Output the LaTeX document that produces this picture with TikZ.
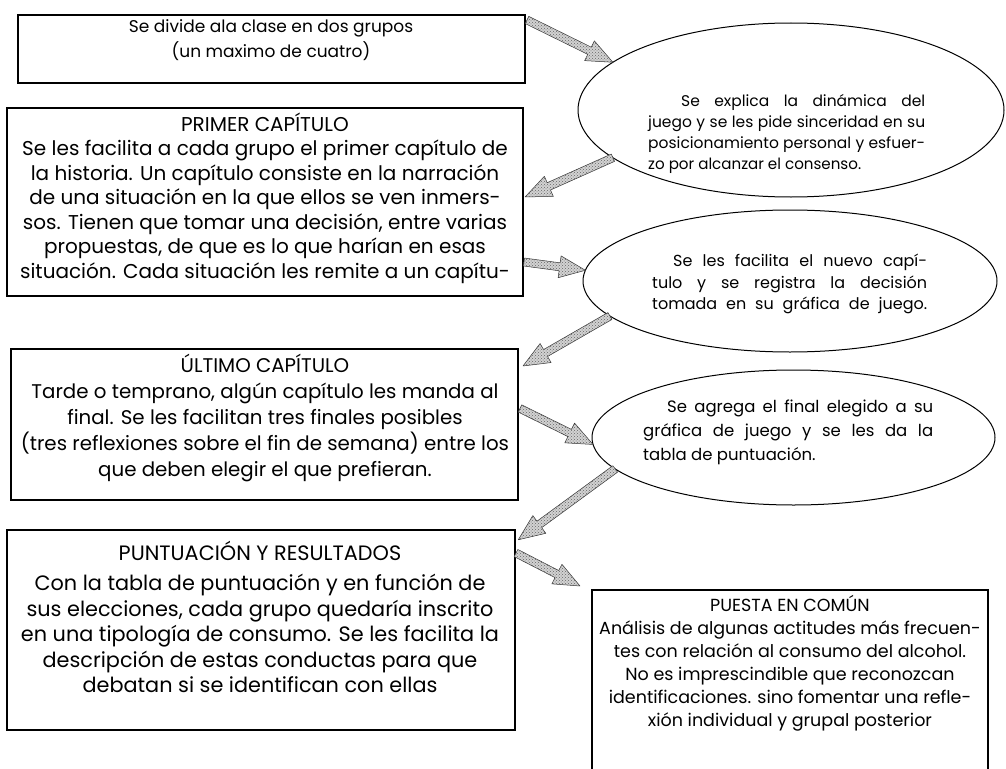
\documentclass[tikz,border=0pt]{standalone}
\usepackage{fontspec}
\setmainfont{Poppins}
\usepackage{graphicx}
\usetikzlibrary{calc,shapes.geometric,patterns}

\newcommand\jline[2]{\sbox0{#2}\ifdim\wd0>#1\relax\pgfmathparse{#1/\the\wd0}\scalebox{\pgfmathresult}[1]{\box0}\else\makebox[#1][s]{#2}\fi}

\newcommand\blockarrow[2]{%
 \path let \p1=(#1), \p2=(#2), \n1={atan2(\y2-\y1,\x2-\x1)}, \n2={veclen(\x2-\x1,\y2-\y1)} in
   \pgfextra{\pgfmathsetmacro\baA{\n1}\pgfmathsetmacro\baL{\n2}\xdef\baA{\baA}\xdef\baL{\baL}\xdef\baX{\x1}\xdef\baY{\y1}};
 \begin{scope}[shift={(\baX,\baY)}, rotate=\baA]
  \filldraw[barrow] (0pt,4pt) -- ({\baL pt-26pt},4pt) -- ({\baL pt-26pt},11pt) -- (\baL pt,0pt)
     -- ({\baL pt-26pt},-11pt) -- ({\baL pt-26pt},-4pt) -- (0pt,-4pt) -- cycle;
 \end{scope}}

\begin{document}
\begin{tikzpicture}[x=1pt,y=-1pt,
  box/.style={draw=black, line width=1.1pt, rectangle, inner sep=0pt, outer sep=0pt},
  oval/.style={draw=black, line width=1pt, ellipse, inner sep=0pt, outer sep=0pt},
  btext/.style={align=center, inner sep=0pt, font=\fontsize{20}{24.5}\selectfont},
  otext/.style={align=left, inner sep=0pt, anchor=west, font=\fontsize{15.5}{21}\selectfont},
  barrow/.style={fill=gray!35, draw=black!80, line width=0.5pt, line join=round,
    postaction={pattern=crosshatch dots, pattern color=black!60}}]
\useasboundingbox (0,0) rectangle (1006,768);
\fill[white] (0,0) rectangle (1006,768);

% boxes
\node[box, minimum width=507pt, minimum height=68pt] (b1) at (271.5,49) {};
\node[box, minimum width=516pt, minimum height=188pt] (b2) at (265,202) {};
\node[box, minimum width=507pt, minimum height=151pt] (b3) at (264.5,424.5) {};
\node[box, minimum width=508pt, minimum height=200pt] (b4) at (261,630) {};
\node[box, minimum width=396pt, minimum height=200pt] (b5) at (790,690) {};

% ellipses
\node[oval, minimum width=426pt, minimum height=174pt] (e1) at (791,110) {};
\node[oval, minimum width=414pt, minimum height=142pt] (e2) at (790,281) {};
\node[oval, minimum width=403pt, minimum height=135pt] (e3) at (793.5,437.5) {};

% box texts
\node[btext, font=\fontsize{17}{25}\selectfont] (t1) at (271,40) {Se divide ala clase en dos grupos\\(un maximo de cuatro)};
\node[btext] (t2) at (265,198) {PRIMER CAPÍTULO\\
Se les facilita a cada grupo el primer capítulo de\\
la historia. Un capítulo consiste en la narración\\
de una situación en la que ellos se ven inmers-\\
sos. Tienen que tomar una decisión, entre varias\\
propuestas, de que es lo que harían en esas\\
situación. Cada situación les remite a un capítu-};
\node[btext, font=\fontsize{19.8}{26}\selectfont] (t3) at (265,418) {ÚLTIMO CAPÍTULO\\
Tarde o temprano, algún capítulo les manda al\\
final. Se les facilitan tres finales posibles\\
(tres reflexiones sobre el fin de semana) entre los\\
que deben elegir el que prefieran.};
\node[btext, font=\fontsize{20.8}{25.5}\selectfont] (t4) at (260,617) {PUNTUACIÓN Y RESULTADOS\\[5pt]
Con la tabla de puntuación y en función de\\
sus elecciones, cada grupo quedaría inscrito\\
en una tipología de consumo. Se les facilita la\\
descripción de estas conductas para que\\
debatan si se identifican con ellas};
\node[btext, font=\fontsize{17.5}{23}\selectfont] (t5) at (790,663) {PUESTA EN COMÚN\\
Análisis de algunas actitudes más frecuen-\\
tes con relación al consumo del alcohol.\\
No es imprescindible que reconozcan\\
identificaciones. sino fomentar una refle-\\
xión individual y grupal posterior};

% ellipse texts
\node[otext] (o1) at (648,134) {\hspace*{33pt}\jline{244pt}{Se explica la dinámica del}\\
\jline{277pt}{juego y se les pide sinceridad en su}\\
\jline{277pt}{posicionamiento personal y esfuer-}\\
\jline{213pt}{zo por alcanzar el consenso.}};
\node[otext, font=\fontsize{16}{21.5}\selectfont] (o2) at (652,284) {\hspace*{21pt}\jline{254pt}{Se les facilita el nuevo capí-}\\
\jline{275pt}{tulo y se registra la decisión}\\
\jline{275pt}{tomada en su gráfica de juego.}};
\node[otext, font=\fontsize{16.5}{24}\selectfont] (o3) at (643,432) {\hspace*{24pt}\jline{266pt}{Se agrega el final elegido a su}\\
\jline{290pt}{gráfica de juego y se les da la}\\
tabla de puntuación.};

% arrows
\blockarrow{$(b1.north east)+(2,5)$}{e1.165}
\blockarrow{e1.195}{$(b2.east)+(2,-5)$}
\blockarrow{$(b2.east)+(1,60)$}{e2.177}
\blockarrow{e2.191}{$(b3.north east)+(5,17)$}
\blockarrow{$(b3.east)+(2,-16)$}{e3.182}
\blockarrow{e3.190}{$(b4.north east)+(3,10)$}
\blockarrow{$(b4.north east)+(1,23)$}{$(b5.north west)+(-12,-4)$}
\end{tikzpicture}
\end{document}
